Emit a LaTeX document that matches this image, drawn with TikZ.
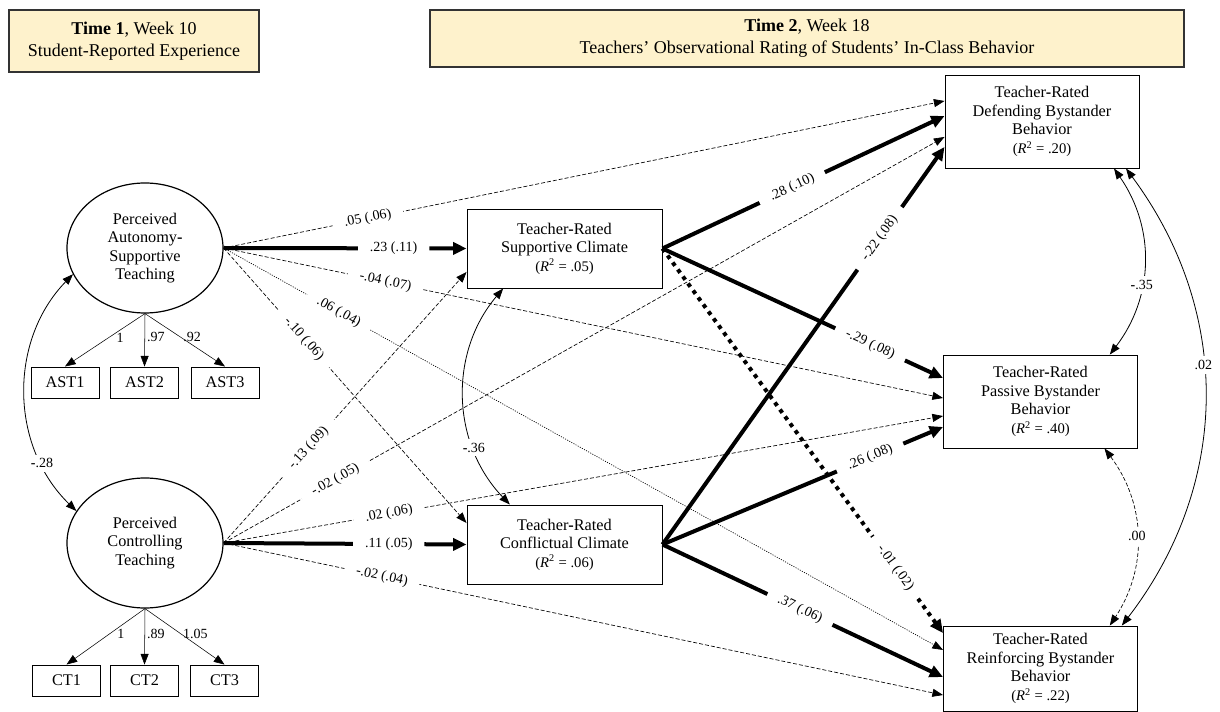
\documentclass[tikz,border=0pt]{standalone}
\usepackage{fontspec}
\setmainfont{Liberation Serif}
\usetikzlibrary{arrows.meta,shapes.geometric}
\definecolor{headfill}{RGB}{254,242,204}
\newcommand{\bh}{\textbf{-}}
\newcommand{\rsq}[1]{{\fontsize{11}{13}\selectfont(\textit{R}\textsuperscript{2} = #1)}}

\begin{document}
\begin{tikzpicture}[x=0.75pt,y=0.75pt,
  >={Triangle[length=8pt,width=6pt]},
  every node/.style={font=\fontsize{12.2}{13.9}\selectfont},
  head/.style={draw=black!80, fill=headfill, line width=0.8pt, align=center, font=\fontsize{13.5}{16.5}\selectfont},
  latent/.style={draw, ellipse, line width=0.9pt, minimum width=117pt, minimum height=97.5pt, align=center, inner sep=0pt},
  obs/.style={draw, line width=0.7pt, minimum width=51pt, minimum height=23.25pt, inner sep=0pt},
  climate/.style={draw, line width=0.7pt, fill=white, minimum width=146.25pt, minimum height=59.25pt, align=center},
  outcome/.style={draw, line width=0.7pt, fill=white, minimum width=145.5pt, minimum height=69.75pt, align=center},
  lab/.style={fill=white, inner xsep=9pt, inner ysep=1pt, sloped, font=\fontsize{10.5}{12}\selectfont},
  cov/.style={fill=white, inner sep=3pt, font=\fontsize{10.5}{12}\selectfont},
  load/.style={inner sep=1.5pt, font=\fontsize{10.5}{12}\selectfont},
  ns/.style={line width=0.5pt, dash pattern=on 3pt off 1.5pt},
  nsdot/.style={line width=0.5pt, dash pattern=on 0.8pt off 1pt},
  sig/.style={line width=3pt, >={Triangle[length=10pt,width=9pt]}},
  sigdot/.style={sig, dash pattern=on 3pt off 3.5pt},
  covline/.style={line width=0.6pt},
]
\useasboundingbox (0,0) rectangle (1220,-712);

\node[head, minimum width=187.5pt, minimum height=46.5pt] (T1 node) at (134,-41) {\textbf{Time 1}, Week 10\\Student-Reported Experience};
\node[head, minimum width=565.5pt, minimum height=42.75pt] (T2 node) at (807,-38.5) {\textbf{Time 2}, Week 18\\Teachers’ Observational Rating of Students’ In-Class Behavior};

\node[latent] (AS node) at (145,-248) {Perceived\\Autonomy\bh\\Supportive\\Teaching};
\node[latent] (CT node) at (145,-543) {Perceived\\Controlling\\Teaching};

\node[obs] (AST1 node) at (65,-382.5) {AST1};
\node[obs] (AST2 node) at (144.5,-382.5) {AST2};
\node[obs] (AST3 node) at (225,-382.5) {AST3};
\node[obs] (CT1 node) at (66.5,-680.5) {CT1};
\node[obs] (CT2 node) at (144.5,-680.5) {CT2};
\node[obs] (CT3 node) at (224.5,-680.5) {CT3};

\draw[->] (AS node.south) -- (AST1 node.north) node[load, pos=.45, right=4pt] {1};
\draw[->] (AS node.south) -- (AST2 node.north) node[load, pos=.45, right] {.97};
\draw[->] (AS node.south) -- (AST3 node.north) node[load, pos=.45, right] {.92};
\draw[->] (CT node.south) -- (CT1 node.north) node[load, pos=.45, right=4pt] {1};
\draw[->] (CT node.south) -- (CT2 node.north) node[load, pos=.45, right] {.89};
\draw[->] (CT node.south) -- (CT3 node.north) node[load, pos=.45, right] {1.05};

\node[climate] (SC node) at (564.5,-248.5) {Teacher\bh Rated\\Supportive Climate\\\rsq{.05}};
\node[climate] (CC node) at (564.5,-544.5) {Teacher\bh Rated\\Conflictual Climate\\\rsq{.06}};

\node[outcome] (DB node) at (1042,-121.5) {Teacher\bh Rated\\Defending Bystander\\Behavior\\\rsq{.20}};
\node[outcome] (PB node) at (1040.5,-401.5) {Teacher\bh Rated\\Passive Bystander\\Behavior\\\rsq{.40}};
\node[outcome, minimum height=63.75pt] (RB node) at (1040.5,-668.5) {Teacher\bh Rated\\Reinforcing Bystander\\Behavior\\\rsq{.22}};

\draw[ns,->] (AS node.east) -- ([yshift=15.4pt]DB node.west) node[lab, pos=.2] {.05 (.06)};
\draw[sig,->] (AS node.east) -- (SC node.west) node[lab, pos=.7] {.23 (.11)};
\draw[ns,->] (AS node.east) -- ([yshift=2.6pt]PB node.west) node[lab, pos=.225] {-.04 (.07)};
\draw[nsdot,->] (AS node.east) -- ([yshift=13.9pt]RB node.west) node[lab, pos=.16] {.06 (.04)};
\draw[ns,->] (AS node.east) -- ([yshift=16.1pt]CC node.west) node[lab, pos=.33] {-.10 (.06)};

\draw[ns,->] (CT node.east) -- ([yshift=-17.6pt]SC node.west) node[lab, pos=.35] {-.13 (.09)};
\draw[ns,->] (CT node.east) -- ([yshift=-11.6pt]DB node.west) node[lab, pos=.155] {-.02 (.05)};
\draw[ns,->] (CT node.east) -- ([yshift=-10.9pt]PB node.west) node[lab, pos=.23] {.02 (.06)};
\draw[sig,->] (CT node.east) -- (CC node.west) node[lab, pos=.68] {.11 (.05)};
\draw[ns,->] (CT node.east) -- ([yshift=-19.9pt]RB node.west) node[lab, pos=.22] {-.02 (.04)};

\draw[sig,->] (SC node.east) -- ([yshift=4.1pt]DB node.west) node[lab, pos=.46] {.28 (.10)};
\draw[sig,->] (SC node.east) -- ([yshift=17.6pt]PB node.west) node[lab, pos=.74] {-.29 (.08)};
\draw[sigdot,->] (SC node.east) -- ([yshift=26.6pt]RB node.west) node[lab, pos=.83] {-.01 (.02)};
\draw[sig,->] (CC node.east) -- ([yshift=-19.1pt]DB node.west) node[lab, pos=.77] {-.22 (.08)};
\draw[sig,->] (CC node.east) -- ([yshift=-19.1pt]PB node.west) node[lab, pos=.74] {.26 (.08)};
\draw[sig,->] (CC node.east) -- ([yshift=-6.4pt]RB node.west) node[lab, pos=.49] {.37 (.06)};

\draw[covline,<->] (AS node.200) to[bend right=45] node[cov, pos=.78] {\bh.28} (CT node.155);
\draw[covline,<->] ([xshift=-46pt]SC node.south) to[bend right=42] node[cov, pos=.72] {\bh.36} ([xshift=-41pt]CC node.north);
\draw[covline,<->] ([xshift=54pt]DB node.south) to[bend left=36] node[cov, pos=.62] {\bh.35} ([xshift=52pt]PB node.north);
\draw[covline,<->] ([xshift=63pt]DB node.south) to[bend left=37] node[cov, pos=.43] {.02} ([xshift=61pt]RB node.north);
\draw[covline,ns,<->] ([xshift=48pt]PB node.south) to[bend left=35] node[cov, pos=.5] {.00} ([xshift=52pt]RB node.north);
\end{tikzpicture}
\end{document}
